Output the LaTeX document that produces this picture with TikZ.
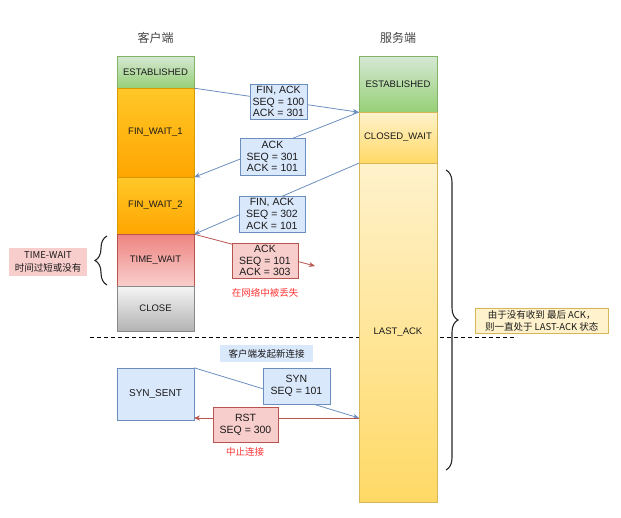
\documentclass[tikz,border=0pt]{standalone}
\usepackage{fontspec}
\setmainfont{Liberation Sans}
\newfontfamily\cjk{Noto Sans CJK SC}
\usetikzlibrary{decorations.pathreplacing,arrows.meta}
\definecolor{gtop}{HTML}{D5E8D4}\definecolor{gbot}{HTML}{97D077}\definecolor{gbrd}{HTML}{82B366}
\definecolor{otop}{HTML}{FFC828}\definecolor{obot}{HTML}{FFA500}\definecolor{obrd}{HTML}{D79B00}
\definecolor{rtop}{HTML}{EE8480}\definecolor{rbot}{HTML}{F8CECC}\definecolor{rbrd}{HTML}{B85450}
\definecolor{ctop}{HTML}{F5F5F5}\definecolor{cbot}{HTML}{B3B3B3}\definecolor{cbrd}{HTML}{888888}
\definecolor{ytop}{HTML}{FFF2CC}\definecolor{ybot}{HTML}{FFD966}\definecolor{ybrd}{HTML}{D6B656}
\definecolor{lblue}{HTML}{DAE8FC}\definecolor{bblue}{HTML}{6C8EBF}
\definecolor{lred}{HTML}{F8CECC}\definecolor{rred}{HTML}{B85450}
\definecolor{txtred}{HTML}{FF3333}\definecolor{txt}{HTML}{1A1A1A}\definecolor{ttl}{HTML}{444444}
\begin{document}
\begin{tikzpicture}[x=1pt,y=-1pt,
  state/.style={draw, inner sep=0pt, text=txt, font=\fontsize{9.5}{11}\selectfont},
  cstate/.style={state, minimum width=77pt},
  sstate/.style={state, minimum width=78pt},
  msg/.style={draw=bblue, fill=lblue, align=center, inner sep=0pt, text=txt, font=\fontsize{10.5}{11.8}\selectfont},
  rmsg/.style={msg, draw=rred, fill=lred},
  barrow/.style={draw=bblue, line width=0.8pt, -{Stealth[length=6pt,width=5pt]}},
  rarrow/.style={draw=rred, line width=0.8pt, -{Stealth[length=6pt,width=5pt]}},
  title/.style={text=ttl, font=\cjk\fontsize{12}{14}\selectfont},
  note/.style={align=center, inner sep=0pt, text=txt, font=\cjk\fontsize{9.5}{12}\selectfont},
  redlabel/.style={text=txtred, font=\cjk\fontsize{9.5}{12}\selectfont},
  bracestyle/.style={draw=black!85, line width=1.1pt, decorate, decoration={brace, amplitude=12pt}}
]
\useasboundingbox (0,0) rectangle (621,517);
% dashed separator (behind)
\coordinate (dl) at (90,337);
\coordinate (dr) at (517,337);
\draw[dashed, line width=1pt, dash pattern=on 4pt off 3pt] (dl) -- (dr);

% titles
\node[title] (ctitle) at (155.5,38) {客户端};
\node[title] (stitle) at (398,38) {服务端};

% client states
\node[cstate, minimum height=32pt, draw=gbrd, top color=gtop, bottom color=gbot] (cest) at (155.5,72) {ESTABLISHED};
\node[cstate, minimum height=89pt, draw=obrd, top color=otop, bottom color=obot] (fw1) at (155.5,132.5) {FIN\_WAIT\_1};
\node[cstate, minimum height=57pt, draw=obrd, top color=otop, bottom color=obot] (fw2) at (155.5,205.5) {FIN\_WAIT\_2};
\node[cstate, minimum height=52pt, draw=rbrd, top color=rtop, bottom color=rbot] (tw) at (155.5,260) {TIME\_WAIT};
\node[cstate, minimum height=45pt, draw=cbrd, top color=ctop, bottom color=cbot] (cl) at (155.5,308.5) {CLOSE};

% server states
\node[sstate, minimum height=56pt, draw=gbrd, top color=gtop, bottom color=gbot] (sest) at (398,84) {ESTABLISHED};
\node[sstate, minimum height=51pt, draw=ybrd, top color=ytop, bottom color=ybot] (cw) at (398,137.5) {CLOSED\_WAIT};
\node[sstate, minimum height=339pt, draw=ybrd, top color=ytop, bottom color=ybot] (la) at (398,332.5) {LAST\_ACK};

% SYN_SENT
\node[msg, minimum width=77pt, minimum height=52pt, font=\fontsize{10}{11}\selectfont] (ss) at (155.5,394) {SYN\_SENT};

% arrow endpoints
\coordinate (lost) at (315,266);
\coordinate (p) at (359,418);
\coordinate (q) at (194,418);

% arrows
\draw[barrow] (cest.south east) -- (sest.south west);
\draw[barrow] (sest.south west) -- (fw1.south east);
\draw[barrow] (cw.south west) -- (fw2.south east);
\draw[rarrow] (fw2.south east) -- (lost);
\draw[barrow] (ss.north east) -- (p);
\draw[rarrow] (p) -- (q);

% message boxes
\node[msg, minimum width=57pt, minimum height=35pt] (m1) at (278.5,101.5) {FIN, ACK\\SEQ = 100\\ACK = 301};
\node[msg, minimum width=65pt, minimum height=37pt] (m2) at (272.5,156.5) {ACK\\SEQ = 301\\ACK = 101};
\node[msg, minimum width=66pt, minimum height=36pt] (m3) at (272,214) {FIN, ACK\\SEQ = 302\\ACK = 101};
\node[rmsg, minimum width=66pt, minimum height=35pt] (m4) at (265,260.5) {ACK\\SEQ = 101\\ACK = 303};
\node[redlabel] (lostlbl) at (265,293) {在网络中被丢失};

\node[msg, minimum width=67pt, minimum height=36pt] (syn) at (296.5,386) {SYN\\SEQ = 101};
\node[rmsg, minimum width=65pt, minimum height=35pt] (rst) at (245.5,424.5) {RST\\SEQ = 300};
\node[redlabel] (abort) at (245,452) {中止连接};

\node[note, fill=lblue, minimum width=93pt, minimum height=17pt] (newc) at (266.5,353.5) {客户端发起新连接};

% TIME-WAIT note and brace
\node[note, fill=lred, minimum width=78pt, minimum height=28pt, font=\cjk\fontsize{9.5}{12.5}\selectfont] (twn) at (48,262) {TIME-WAIT\\时间过短或没有};
\coordinate (b1s) at (107,285);
\coordinate (b1e) at (107,236);
\draw[bracestyle] (b1s) -- (b1e);

% LAST_ACK note and brace
\coordinate (b2s) at (446,170);
\coordinate (b2e) at (446,470);
\draw[bracestyle] (b2s) -- (b2e);
\node[note, fill=ytop, draw=ybrd, minimum width=133pt, minimum height=25pt, anchor=west] (lan) at (475,320.5) {由于没有收到 最后 ACK，\\则一直处于 LAST-ACK 状态};
\end{tikzpicture}
\end{document}
